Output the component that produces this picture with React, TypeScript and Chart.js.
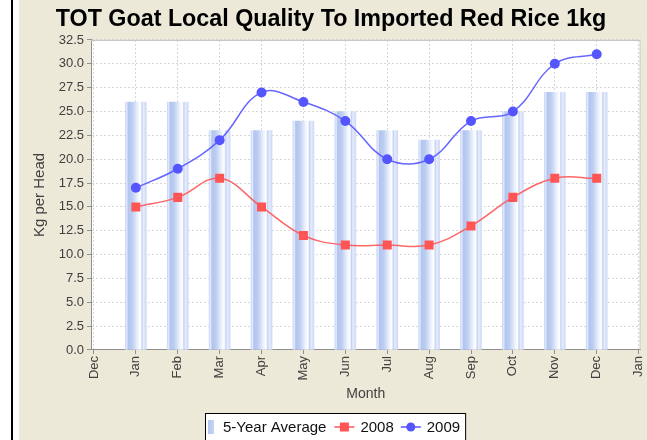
import React, { useEffect, useRef } from 'react';
import { Chart, registerables } from 'chart.js';

Chart.register(...registerables);

// ---- data ----
const tickLabels = ['Dec', 'Jan', 'Feb', 'Mar', 'Apr', 'May', 'Jun', 'Jul', 'Aug', 'Sep', 'Oct', 'Nov', 'Dec', 'Jan'];
const monthPositions = [1, 2, 3, 4, 5, 6, 7, 8, 9, 10, 11, 12];
const avg5Year = [26, 26, 23, 23, 24, 25, 23, 22, 23, 25, 27, 27];
const series2008 = [15, 16, 18, 15, 12, 11, 11, 11, 13, 16, 18, 18];
const series2009 = [17, 19, 22, 27, 26, 24, 20, 20, 24, 25, 30, 31];
const seriesLabels = ['5-Year Average', '2008', '2009'];

const FONT = "'Liberation Sans', Arial, sans-serif";
const BAR_W = 21;
const RED = '#ff5555';
const BLUE = '#5555ff';

const toPoints = (vals: number[]) => vals.map((v, i) => ({ x: monthPositions[i], y: v }));

const addBarStops = (g: CanvasGradient) => {
  g.addColorStop(0.0, '#cad7f6');
  g.addColorStop(0.07, '#e4ebfb');
  g.addColorStop(0.13, '#b2c5ef');
  g.addColorStop(0.32, '#bccdf1');
  g.addColorStop(0.6, '#eef3fd');
  g.addColorStop(0.72, '#ffffff');
  g.addColorStop(0.79, '#c3d2f4');
  g.addColorStop(0.86, '#e6ecfb');
  g.addColorStop(1.0, '#cfdaf6');
};

const barGradient = (c: any) => {
  const chart = c.chart;
  if (c.type !== 'data' || !chart.chartArea || !c.raw) return '#b8c8f0';
  const xs = chart.scales.x;
  const cx = xs.getPixelForValue(c.raw.x);
  const g = chart.ctx.createLinearGradient(cx - BAR_W / 2, 0, cx + BAR_W / 2, 0);
  addBarStops(g);
  return g;
};

const framePlugin = {
  id: 'frame',
  beforeDraw(chart: any) {
    const { ctx, width, height, chartArea: a } = chart;
    ctx.save();
    ctx.fillStyle = '#ffffff';
    ctx.fillRect(0, 0, width, height);
    ctx.fillStyle = '#000000';
    ctx.fillRect(11, 0, 2, height);
    ctx.fillStyle = '#ECE9D8';
    ctx.fillRect(19, 0, width - 19, height);
    ctx.fillStyle = '#ffffff';
    ctx.fillRect(a.left, a.top, a.right - a.left, a.bottom - a.top);
    ctx.restore();
  },
  afterDraw(chart: any) {
    const { ctx, chartArea: a } = chart;
    ctx.save();
    // plot outline (top & right)
    ctx.strokeStyle = '#c4c4c4';
    ctx.lineWidth = 1;
    ctx.beginPath();
    ctx.moveTo(a.left, a.top + 0.5);
    ctx.lineTo(a.right - 0.5, a.top + 0.5);
    ctx.lineTo(a.right - 0.5, a.bottom);
    ctx.stroke();

    // legend
    ctx.font = `15px ${FONT}`;
    ctx.textBaseline = 'middle';
    const w0 = ctx.measureText(seriesLabels[0]).width;
    const w1 = ctx.measureText(seriesLabels[1]).width;
    const w2 = ctx.measureText(seriesLabels[2]).width;
    const total = 3 + 6 + 9 + w0 + 8 + 20 + 6 + w1 + 7 + 20 + 6 + w2 + 5;
    const cxMid = 335.5;
    const left = Math.round(cxMid - total / 2);
    const top = 413;
    const cy = 427;
    ctx.fillStyle = '#ffffff';
    ctx.fillRect(left, top, total, 40);
    ctx.strokeStyle = '#000000';
    ctx.strokeRect(left + 0.5, top + 0.5, total, 40);

    let x = left + 3;
    const g = ctx.createLinearGradient(x, 0, x + 6, 0);
    g.addColorStop(0, '#b2c5ef');
    g.addColorStop(1, '#c8d6f6');
    ctx.fillStyle = g;
    ctx.fillRect(x, cy - 7, 6, 14);
    x += 6 + 9;
    ctx.fillStyle = '#111111';
    ctx.fillText(seriesLabels[0], x, cy + 0.5);
    x += w0 + 8;

    // 2008
    ctx.strokeStyle = RED;
    ctx.lineWidth = 1.5;
    ctx.beginPath();
    ctx.moveTo(x, cy);
    ctx.lineTo(x + 20, cy);
    ctx.stroke();
    ctx.fillStyle = RED;
    ctx.fillRect(x + 10 - 4.5, cy - 4.5, 9, 9);
    x += 20 + 6;
    ctx.fillStyle = '#111111';
    ctx.fillText(seriesLabels[1], x, cy + 0.5);
    x += w1 + 7;

    // 2009
    ctx.strokeStyle = BLUE;
    ctx.beginPath();
    ctx.moveTo(x, cy);
    ctx.lineTo(x + 20, cy);
    ctx.stroke();
    ctx.fillStyle = BLUE;
    ctx.beginPath();
    ctx.arc(x + 10, cy, 4.5, 0, Math.PI * 2);
    ctx.fill();
    x += 20 + 6;
    ctx.fillStyle = '#111111';
    ctx.fillText(seriesLabels[2], x, cy + 0.5);
    ctx.restore();
  },
};

export default function App() {
  const ref = useRef<HTMLCanvasElement>(null);

  useEffect(() => {
    document.body.style.margin = '0';
    const canvas = ref.current!;
    const chart = new Chart(canvas, {
      type: 'bar',
      data: {
        datasets: [
          {
            type: 'bar',
            label: seriesLabels[0],
            data: toPoints(avg5Year),
            backgroundColor: barGradient,
            borderWidth: 0,
            barThickness: BAR_W,
            order: 3,
          } as any,
          {
            type: 'line',
            label: seriesLabels[1],
            data: toPoints(series2008),
            borderColor: 'rgba(255,85,85,0.9)',
            backgroundColor: RED,
            borderWidth: 1.5,
            tension: 0.4,
            pointStyle: 'rect',
            pointRadius: 6.4,
            pointBorderWidth: 0,
            pointBackgroundColor: RED,
            fill: false,
            order: 2,
          } as any,
          {
            type: 'line',
            label: seriesLabels[2],
            data: toPoints(series2009),
            borderColor: 'rgba(85,85,255,0.9)',
            backgroundColor: BLUE,
            borderWidth: 1.5,
            tension: 0.4,
            pointStyle: 'circle',
            pointRadius: 5,
            pointBorderWidth: 0,
            pointBackgroundColor: BLUE,
            fill: false,
            order: 1,
          } as any,
        ],
      },
      options: {
        responsive: false,
        animation: false,
        devicePixelRatio: 1,
        layout: { padding: { left: 20, right: 5, top: 0, bottom: 35 } },
        plugins: {
          legend: { display: false },
          tooltip: { enabled: false },
          title: {
            display: true,
            text: 'TOT Goat Local Quality To Imported Red Rice 1kg',
            color: '#000000',
            font: { family: FONT, size: 23.3, weight: 'bold' },
            padding: { top: 6, bottom: 6 },
          },
        },
        scales: {
          x: {
            type: 'linear',
            min: -0.071,
            max: 13.048,
            offset: false,
            afterBuildTicks: (scale: any) => {
              scale.ticks = tickLabels.map((_, i) => ({ value: i }));
            },
            afterFit: (scale: any) => {
              scale.height = 55;
              scale.paddingLeft = 0;
              scale.paddingRight = 0;
            },
            ticks: {
              autoSkip: false,
              minRotation: 90,
              maxRotation: 90,
              padding: 2,
              color: '#404040',
              font: { family: FONT, size: 13 },
              callback: (v: any) => tickLabels[Math.round(v)] ?? '',
            },
            grid: {
              offset: false,
              color: '#d6d6d6',
              lineWidth: 1,
              tickLength: 4,
              tickColor: '#909090',
            },
            border: { display: true, color: '#909090', width: 1, dash: [2, 2] },
            title: {
              display: true,
              text: 'Month',
              color: '#404040',
              font: { family: FONT, size: 14 },
              padding: { top: 0, bottom: 2.6 },
            },
          },
          y: {
            type: 'linear',
            min: 0,
            max: 32.5,
            afterFit: (scale: any) => {
              scale.width = 71;
              scale.paddingTop = 0;
              scale.paddingBottom = 0;
            },
            ticks: {
              stepSize: 2.5,
              padding: 3,
              color: '#404040',
              font: { family: FONT, size: 13 },
              callback: (v: any) => Number(v).toFixed(1),
            },
            grid: {
              color: '#d6d6d6',
              lineWidth: 1,
              tickLength: 4,
              tickColor: '#909090',
            },
            border: { display: true, color: '#909090', width: 1, dash: [2, 2] },
            title: {
              display: true,
              text: 'Kg per Head',
              color: '#404040',
              font: { family: FONT, size: 15 },
              padding: { top: 11, bottom: 0 },
            },
          },
        },
      },
      plugins: [framePlugin],
    } as any);
    return () => chart.destroy();
  }, []);

  return (
    <div style={{ width: 647, height: 440 }}>
      <canvas ref={ref} width={647} height={440} style={{ display: 'block' }} />
    </div>
  );
}
